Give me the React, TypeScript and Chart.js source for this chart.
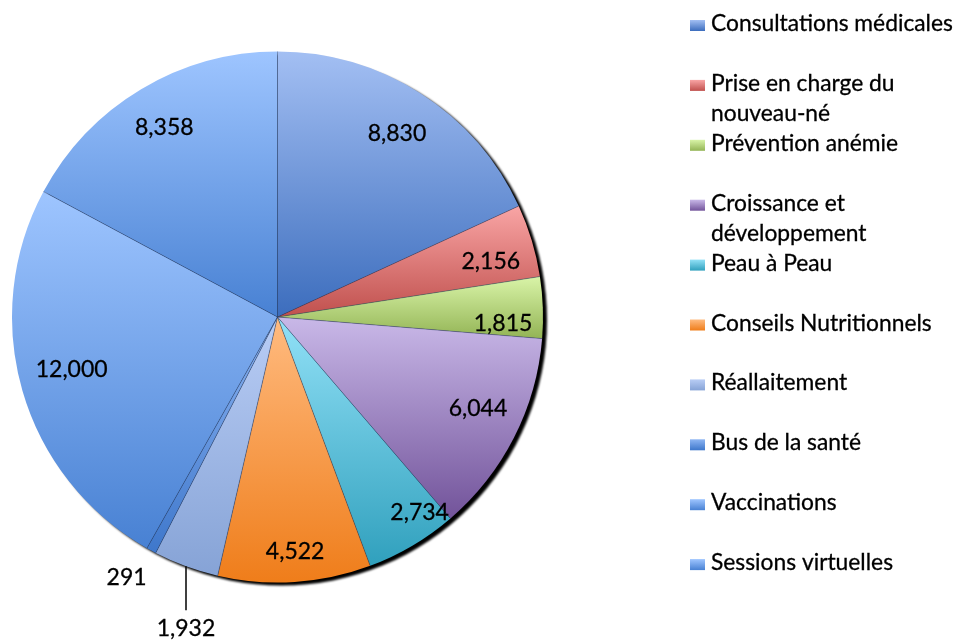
import React, { useEffect, useRef } from 'react';
import { Chart, registerables } from 'chart.js';

Chart.register(...registerables);

// ---------- data ----------
const categories: string[][] = [
  ['Consultations médicales'],
  ['Prise en charge du', 'nouveau-né'],
  ['Prévention anémie'],
  ['Croissance et', 'développement'],
  ['Peau à Peau'],
  ['Conseils Nutritionnels'],
  ['Réallaitement'],
  ['Bus de la santé'],
  ['Vaccinations'],
  ['Sessions virtuelles'],
];
const values: number[] = [8830, 2156, 1815, 6044, 2734, 4522, 1932, 291, 12000, 8358];

// ---------- styles ----------
const colorsTop = ['#a3bff3', '#f9a5a5', '#d9f4a8', '#c9b8e8', '#92e1f7', '#ffbb80', '#b9cdf5', '#8db5f3', '#9ec5ff', '#9ec5ff'];
const colorsBottom = ['#3c6dbd', '#c0504d', '#93b455', '#72539a', '#30a0bd', '#ef7d1a', '#86a3d6', '#3e77cb', '#4881d3', '#4881d3'];
// label placement: fraction of radius along the slice's middle angle; 'leader' = outside with a leader line
const labelPlacement: (number | 'leader')[] = [0.825, 0.83, 0.85, 0.83, 0.91, 0.885, 'leader', 1.134, 0.8, 0.83];
// small angular nudges (degrees) of labels off the slice's middle angle
const labelNudge: number[] = [0.4, 2.2, 3.8, -2.5, -5.5, -0.6, 0, 1.7, 1.9, 0];

const FONT = 'Lato, "Open Sans", sans-serif';
const fmt = (v: number) => String(v).replace(/\B(?=(\d{3})+(?!\d))/g, ',');

function sliceGradient(chart: any, i: number) {
  const area = chart.chartArea;
  if (!area) return colorsBottom[i];
  const cx = (area.left + area.right) / 2;
  const cy = (area.top + area.bottom) / 2;
  const r = Math.min(area.right - area.left, area.bottom - area.top) / 2;
  const total = values.reduce((a, b) => a + b, 0);
  let a0 = -Math.PI / 2;
  for (let j = 0; j < i; j++) a0 += (values[j] / total) * Math.PI * 2;
  const a1 = a0 + (values[i] / total) * Math.PI * 2;
  const ys = [cy, cy + r * Math.sin(a0), cy + r * Math.sin(a1)];
  for (let k = Math.ceil(a0 / (Math.PI / 2)); (k * Math.PI) / 2 <= a1; k++) {
    ys.push(cy + r * Math.sin((k * Math.PI) / 2));
  }
  const minY = Math.min(...ys);
  const maxY = Math.max(...ys);
  const g = chart.ctx.createLinearGradient(0, minY, 0, maxY + 0.01);
  g.addColorStop(0, colorsTop[i]);
  g.addColorStop(1, colorsBottom[i]);
  return g;
}

function drawText(ctx: CanvasRenderingContext2D, text: string, x: number, y: number) {
  ctx.fillText(text, x, y);
  ctx.strokeText(text, x, y);
}

const shadowPlugin = {
  id: 'pieShadow',
  beforeDatasetsDraw(chart: any) {
    const meta = chart.getDatasetMeta(0);
    const arc = meta.data[0];
    if (!arc) return;
    const { x, y, outerRadius } = arc.getProps(['x', 'y', 'outerRadius'], true);
    const ctx = chart.ctx;
    ctx.save();
    ctx.filter = 'blur(0.8px)';
    ctx.fillStyle = '#000';
    ctx.beginPath();
    ctx.arc(x + 4, y + 3, outerRadius, 0, Math.PI * 2);
    ctx.fill();
    ctx.restore();
  },
};

const dividersAndLabels = {
  id: 'dividersAndLabels',
  afterDatasetsDraw(chart: any) {
    const ctx = chart.ctx;
    const meta = chart.getDatasetMeta(0);
    ctx.save();
    ctx.strokeStyle = 'rgba(40,60,100,0.55)';
    ctx.lineWidth = 0.8;
    meta.data.forEach((arc: any) => {
      const { x, y, startAngle, outerRadius } = arc.getProps(['x', 'y', 'startAngle', 'outerRadius'], true);
      ctx.beginPath();
      ctx.moveTo(x, y);
      ctx.lineTo(x + outerRadius * Math.cos(startAngle), y + outerRadius * Math.sin(startAngle));
      ctx.stroke();
    });
    ctx.font = `23px ${FONT}`;
    ctx.textAlign = 'center';
    ctx.textBaseline = 'middle';
    meta.data.forEach((arc: any, i: number) => {
      const { x, y, startAngle, endAngle, outerRadius } = arc.getProps(
        ['x', 'y', 'startAngle', 'endAngle', 'outerRadius'],
        true
      );
      const mid = (startAngle + endAngle) / 2 + (labelNudge[i] * Math.PI) / 180;
      const place = labelPlacement[i];
      const text = fmt(values[i]);
      ctx.fillStyle = '#000';
      if (place === 'leader') {
        const m0 = (startAngle + endAngle) / 2;
        const ex = x + outerRadius * Math.cos(m0);
        const ey = y + outerRadius * Math.sin(m0);
        ctx.strokeStyle = '#000';
        ctx.lineWidth = 1.5;
        ctx.beginPath();
        ctx.moveTo(ex, ey);
        ctx.lineTo(ex, ey + 44);
        ctx.stroke();
        ctx.lineWidth = 0.3;
        drawText(ctx, text, ex, ey + 62);
      } else {
        const d = outerRadius * place;
        ctx.strokeStyle = '#000';
        ctx.lineWidth = 0.3;
        drawText(ctx, text, x + d * Math.cos(mid), y + d * Math.sin(mid));
      }
    });
    ctx.restore();
  },
};

const legendPlugin = {
  id: 'customLegend',
  afterDraw(chart: any) {
    const ctx = chart.ctx;
    ctx.save();
    ctx.font = `22.8px ${FONT}`;
    ctx.textAlign = 'left';
    ctx.textBaseline = 'alphabetic';
    ctx.strokeStyle = '#000';
    ctx.lineWidth = 0.3;
    const x0 = 690;
    const base0 = 31;
    const step = 59.9;
    const lineH = 30;
    categories.forEach((lines, i) => {
      const base = base0 + i * step;
      const g = ctx.createLinearGradient(0, base - 11, 0, base);
      g.addColorStop(0, colorsTop[i]);
      g.addColorStop(1, colorsBottom[i]);
      ctx.fillStyle = g;
      ctx.fillRect(x0, base - 11, 15, 11);
      ctx.fillStyle = '#000';
      lines.forEach((ln, k) => drawText(ctx, ln, x0 + 21, base + k * lineH));
    });
    ctx.restore();
  },
};

export default function App() {
  const ref = useRef<HTMLCanvasElement | null>(null);
  useEffect(() => {
    if (!ref.current) return;
    const chart = new Chart(ref.current, {
      type: 'pie',
      data: {
        labels: categories.map((c) => c.join(' ')),
        datasets: [
          {
            data: values,
            backgroundColor: (c: any) => sliceGradient(c.chart, c.dataIndex),
            borderWidth: 0,
          },
        ],
      },
      options: {
        animation: false,
        responsive: false,
        devicePixelRatio: 1,
        layout: { padding: { left: 12, top: 51, right: 415, bottom: 58 } },
        plugins: { legend: { display: false }, tooltip: { enabled: false } },
      },
      plugins: [shadowPlugin, dividersAndLabels, legendPlugin],
    });
    return () => chart.destroy();
  }, []);
  return (
    <div style={{ position: 'fixed', left: 0, top: 0, width: 958, height: 641, background: '#fff' }}>
      <canvas ref={ref} width={958} height={641} style={{ width: 958, height: 641, display: 'block' }} />
    </div>
  );
}
